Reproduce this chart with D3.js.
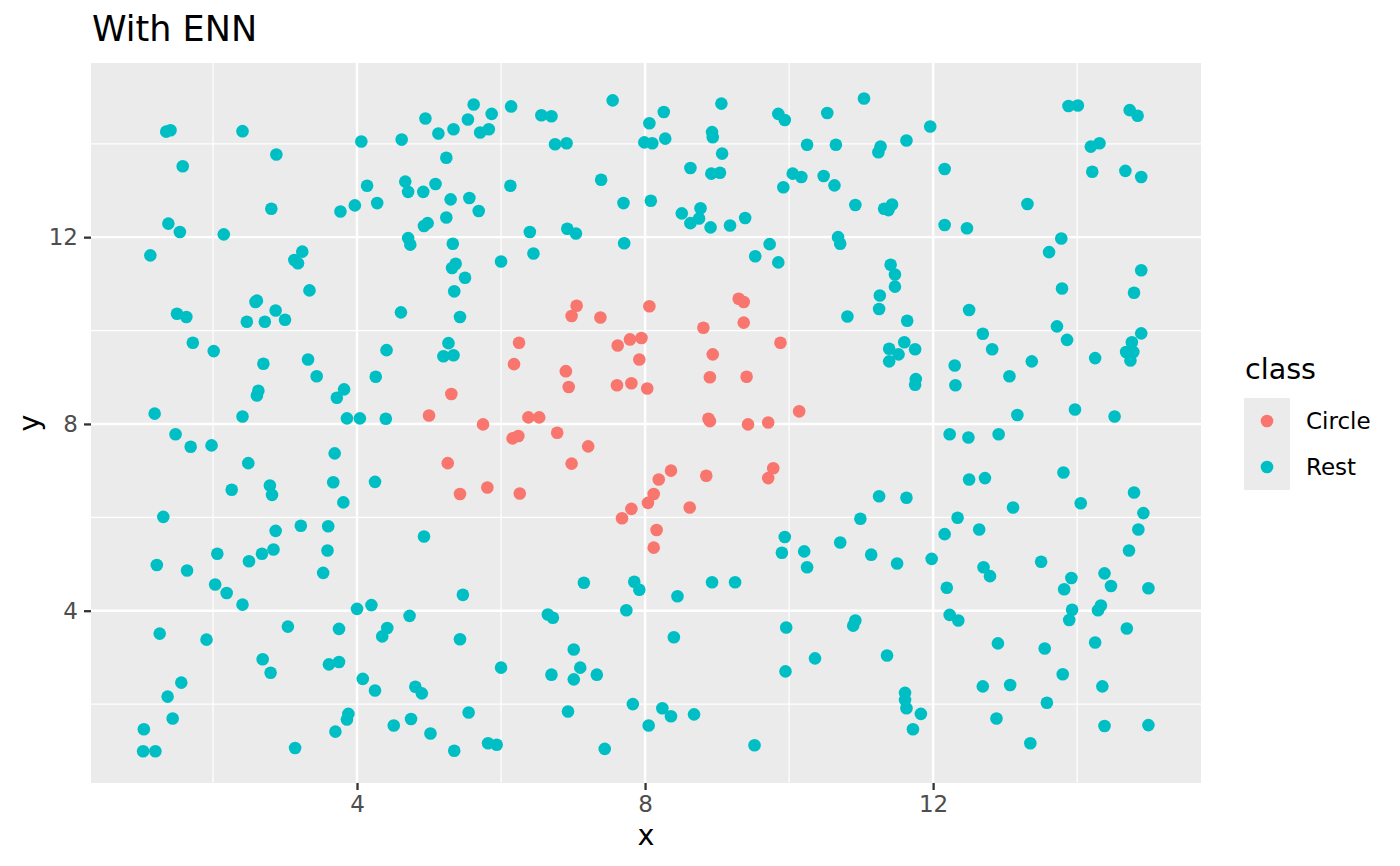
<!DOCTYPE html>
<html>
<head>
<meta charset="utf-8">
<script src="https://cdn.jsdelivr.net/npm/d3@7"></script>
<style>
body { margin: 0; background: #fff; }
text { font-family: "DejaVu Sans", sans-serif; }
</style>
</head>
<body>
<script>
// points, [x, y]
var circle = [
  [5.31,8.64],[5.00,8.18],
  [7.05,10.53],[6.98,10.31],[7.38,10.28],[8.06,10.52],[9.30,10.68],[9.37,10.61],[9.37,10.17],[8.81,10.06],
  [9.88,9.74],[6.25,9.74],[6.18,9.28],[7.62,9.68],[7.79,9.81],[7.95,9.84],[7.92,9.38],[8.94,9.49],
  [6.90,9.13],[6.94,8.79],[7.61,8.83],[7.81,8.87],[8.03,8.76],[8.90,9.00],[9.41,9.01],[10.14,8.27],
  [6.38,8.14],[6.53,8.14],[5.75,7.99],[8.88,8.11],[8.90,8.06],[9.43,7.99],[9.71,8.03],
  [6.16,7.69],[6.24,7.74],[6.78,7.81],[7.21,7.52],[6.98,7.15],[5.81,6.64],[6.26,6.51],[8.19,6.81],
  [8.36,7.00],[8.85,6.89],[9.78,7.05],[9.71,6.84],[8.12,6.50],[8.04,6.31],[7.81,6.18],[7.68,5.98],
  [8.62,6.21],[8.16,5.73],[8.12,5.35],[5.26,7.16],[5.43,6.50]
];

var rest = [
  // top left
  [1.35,14.26],[1.41,14.29],[2.41,14.27],[4.06,14.05],[4.62,14.09],[4.95,14.54],[5.13,14.22],[5.34,14.31],
  [2.88,13.77],[1.58,13.52],[5.24,13.70],[4.14,13.10],[4.67,13.19],[4.71,12.97],[4.92,12.97],[5.09,13.14],
  [5.30,12.81],[4.28,12.73],[3.97,12.68],[3.77,12.55],[2.81,12.61],[5.24,12.42],[4.93,12.24],[4.98,12.30],
  [1.38,12.29],[1.54,12.11],[2.15,12.06],[4.71,11.98],[4.74,11.84],[5.33,11.86],[1.13,11.61],[3.24,11.69],
  [3.13,11.51],[3.18,11.44],[5.32,11.34],[5.37,11.43],[3.34,10.86],[5.35,10.84],[2.59,10.61],[2.61,10.64],
  [1.50,10.36],[1.63,10.29],[2.87,10.43],[2.47,10.19],[2.72,10.19],[3.00,10.23],[4.61,10.39],[5.43,10.29],
  [1.72,9.74],[2.01,9.56],[2.70,9.29],[3.32,9.38],[3.44,9.02],[4.41,9.58],[5.27,9.73],[5.20,9.45],
  [5.34,9.47],[4.26,9.01],[2.63,8.71],[2.61,8.61],[3.82,8.74],[3.72,8.56],[1.19,8.22],[2.41,8.16],
  [3.86,8.12],[4.04,8.12],[4.40,8.11],
  // top middle
  [5.62,14.84],[5.54,14.52],[5.87,14.64],[5.71,14.24],[5.83,14.31],[6.14,14.80],[6.56,14.61],[6.70,14.59],
  [7.55,14.93],[6.75,13.99],[6.91,14.01],[8.06,14.44],[8.26,14.68],[7.99,14.03],[8.10,14.01],[8.28,14.11],
  [9.06,14.86],[8.93,14.25],[8.94,14.14],[9.07,13.79],[9.85,14.64],[9.94,14.51],[10.53,14.66],[10.25,13.98],
  [8.63,13.48],[8.92,13.36],[9.04,13.38],[10.05,13.36],[10.17,13.29],[10.48,13.31],[9.92,13.07],[6.13,13.10],
  [7.39,13.23],[5.56,12.84],[5.69,12.56],[7.70,12.73],[8.08,12.78],[8.51,12.51],[8.77,12.62],[8.63,12.30],
  [8.75,12.40],[8.91,12.21],[9.18,12.25],[9.39,12.41],[6.40,12.11],[6.92,12.18],[7.04,12.08],[7.71,11.87],
  [6.45,11.65],[6.00,11.48],[5.50,11.13],[9.73,11.85],[9.53,11.59],[9.85,11.46],
  // top right
  [11.04,14.97],[10.65,13.98],[11.96,14.37],[11.27,13.94],[11.24,13.82],[11.63,14.07],[10.63,13.11],[12.16,13.46],
  [13.88,14.81],[14.01,14.82],[14.73,14.72],[14.84,14.60],[14.19,13.94],[14.31,14.01],[14.21,13.40],[14.67,13.42],
  [14.89,13.29],[10.92,12.69],[11.32,12.61],[11.43,12.70],[11.38,12.58],[13.31,12.71],[12.16,12.26],[12.47,12.19],
  [10.68,12.00],[10.71,11.86],[13.78,11.97],[13.61,11.68],[11.41,11.41],[11.47,11.20],[11.47,10.94],[11.26,10.75],
  [11.25,10.46],[10.81,10.30],[11.64,10.21],[12.50,10.44],[14.89,11.29],[14.79,10.81],[13.79,10.90],[13.72,10.09],
  [13.86,9.80],[12.69,9.93],[12.82,9.60],[14.89,9.94],[14.76,9.75],[14.68,9.54],[14.78,9.54],[14.74,9.36],
  [14.25,9.41],[11.39,9.61],[11.60,9.75],[11.52,9.49],[11.75,9.60],[11.39,9.34],[11.76,8.96],[11.75,8.84],
  [12.30,9.25],[12.31,8.83],[13.06,9.02],[13.37,9.34],[13.17,8.19],[13.97,8.31],[14.52,8.16],
  // bottom right
  [12.23,7.78],[12.49,7.71],[12.91,7.78],[13.81,6.96],[12.50,6.81],[12.72,6.84],[11.25,6.45],[11.63,6.42],
  [14.79,6.53],[14.05,6.30],[13.11,6.21],[10.99,5.97],[12.34,5.99],[14.92,6.09],[14.85,5.74],[12.16,5.64],
  [12.64,5.74],[10.71,5.46],[11.14,5.20],[11.50,5.01],[11.98,5.11],[14.72,5.29],[13.50,5.05],[12.70,4.93],
  [12.79,4.74],[12.19,4.49],[13.92,4.70],[13.82,4.46],[14.38,4.80],[14.47,4.53],[14.99,4.48],[14.33,4.11],
  [14.29,4.01],[13.93,4.02],[13.89,3.80],[12.23,3.91],[12.35,3.79],[10.92,3.79],[10.89,3.68],[14.69,3.62],
  [14.25,3.32],[12.90,3.30],[13.55,3.19],[11.36,3.04],[13.80,2.64],[12.69,2.38],[13.07,2.41],[14.35,2.38],
  [13.58,2.03],[11.61,2.24],[11.61,2.09],[11.63,1.91],[11.83,1.79],[11.72,1.46],[12.88,1.69],[13.35,1.16],
  [14.38,1.53],[14.99,1.55],
  // bottom middle
  [9.94,5.58],[9.90,5.24],[10.21,5.27],[10.25,4.93],[5.47,4.34],[7.15,4.60],[7.85,4.62],[7.92,4.45],
  [8.45,4.31],[8.93,4.61],[9.25,4.61],[7.74,4.01],[6.65,3.92],[6.72,3.85],[8.40,3.43],[9.96,3.64],
  [6.00,2.78],[7.01,3.17],[6.70,2.63],[7.10,2.78],[7.01,2.53],[7.33,2.63],[10.36,2.98],[9.95,2.70],
  [5.55,1.82],[6.93,1.84],[7.83,2.00],[8.24,1.91],[8.36,1.74],[8.68,1.78],[8.05,1.54],[5.82,1.16],
  [5.94,1.13],[7.44,1.04],[9.52,1.12],
  // bottom left
  [1.48,7.78],[1.69,7.51],[1.98,7.54],[2.49,7.16],[3.69,7.37],[2.26,6.59],[2.79,6.68],[2.82,6.48],
  [3.67,6.75],[4.25,6.76],[3.81,6.32],[1.31,6.01],[2.87,5.71],[3.22,5.82],[3.60,5.81],[4.93,5.59],
  [2.06,5.22],[1.22,4.98],[1.64,4.86],[2.50,5.06],[2.68,5.22],[2.84,5.31],[3.59,5.29],[3.53,4.81],
  [2.03,4.56],[2.19,4.38],[2.41,4.13],[4.00,4.04],[4.20,4.12],[4.73,3.89],[1.26,3.51],[1.91,3.38],
  [3.04,3.66],[3.75,3.61],[4.42,3.63],[4.35,3.45],[5.43,3.39],[2.69,2.96],[2.80,2.67],[3.61,2.85],
  [3.75,2.90],[4.08,2.54],[4.25,2.29],[4.81,2.37],[4.90,2.23],[1.56,2.46],[1.37,2.16],[1.44,1.69],
  [1.04,1.46],[1.03,0.99],[1.20,0.99],[3.14,1.06],[3.88,1.79],[3.86,1.67],[3.70,1.41],[4.51,1.54],
  [4.75,1.68],[5.02,1.37],[5.35,1.00]
];

var xTicks = [4, 8, 12], yTicks = [4, 8, 12];
var xMinor = [2, 6, 10, 14], yMinor = [2, 6, 10, 14];
var classes = ['Circle', 'Rest'];
var colours = ['#F8766D', '#00BFC4'];

function chart()
{
  var width = 1400, height = 866,
      left = 91, right = 1201, top = 63, bottom = 783;

  var x = d3.scaleLinear().domain([0.306, 15.72]).range([left, right]);
  var y = d3.scaleLinear().domain([0.31, 15.73]).range([bottom, top]);

  var svg = d3.select('body').append('svg').attr('width', width).attr('height', height);

  svg.append('rect').attr('x', left).attr('y', top).attr('width', right - left).attr('height', bottom - top).style('fill', '#EBEBEB');

  // grid, minor first then major
  var grid = svg.append('g');
  grid.selectAll('.xminor').data(xMinor).enter().append('line')
    .attr('x1', function(d) { return x(d); }).attr('x2', function(d) { return x(d); })
    .attr('y1', top).attr('y2', bottom).style('stroke', '#fff').style('stroke-width', 1.2);
  grid.selectAll('.yminor').data(yMinor).enter().append('line')
    .attr('y1', function(d) { return y(d); }).attr('y2', function(d) { return y(d); })
    .attr('x1', left).attr('x2', right).style('stroke', '#fff').style('stroke-width', 1.2);
  grid.selectAll('.xmajor').data(xTicks).enter().append('line')
    .attr('x1', function(d) { return x(d); }).attr('x2', function(d) { return x(d); })
    .attr('y1', top).attr('y2', bottom).style('stroke', '#fff').style('stroke-width', 2.4);
  grid.selectAll('.ymajor').data(yTicks).enter().append('line')
    .attr('y1', function(d) { return y(d); }).attr('y2', function(d) { return y(d); })
    .attr('x1', left).attr('x2', right).style('stroke', '#fff').style('stroke-width', 2.4);

  // points
  var pts = svg.append('g');
  pts.selectAll('.rest').data(rest).enter().append('circle')
    .attr('cx', function(d) { return x(d[0]); }).attr('cy', function(d) { return y(d[1]); })
    .attr('r', 6.3).style('fill', colours[1]);
  pts.selectAll('.circ').data(circle).enter().append('circle')
    .attr('cx', function(d) { return x(d[0]); }).attr('cy', function(d) { return y(d[1]); })
    .attr('r', 6.3).style('fill', colours[0]);

  // axes
  var xAxis = svg.append('g').attr('transform', 'translate(0,' + bottom + ')')
    .call(d3.axisBottom(x).tickValues(xTicks).tickSize(7).tickPadding(6).tickFormat(d3.format('d')));
  var yAxis = svg.append('g').attr('transform', 'translate(' + left + ',0)')
    .call(d3.axisLeft(y).tickValues(yTicks).tickSize(7).tickPadding(6).tickFormat(d3.format('d')));
  [xAxis, yAxis].forEach(function(a) {
    a.select('.domain').remove();
    a.selectAll('line').style('stroke', '#333').style('stroke-width', 2.3);
    a.selectAll('text').style('fill', '#4D4D4D').style('font-size', '23px').style('font-family', '"DejaVu Sans", sans-serif');
  });

  // titles
  svg.append('text').attr('x', 92).attr('y', 41).text('With ENN').style('font-size', '35px').style('fill', '#000');
  svg.append('text').attr('x', (left + right) / 2).attr('y', 845).attr('text-anchor', 'middle')
    .text('x').style('font-size', '28.6px').style('fill', '#000');
  svg.append('text').attr('transform', 'translate(39,' + (top + bottom) / 2 + ') rotate(-90)').attr('text-anchor', 'middle')
    .text('y').style('font-size', '28.6px').style('fill', '#000');

  // legend
  var legend = svg.append('g');
  legend.append('text').attr('x', 1245).attr('y', 379).text('class').style('font-size', '28.6px').style('fill', '#000');
  legend.append('rect').attr('x', 1244).attr('y', 398).attr('width', 46).attr('height', 92).style('fill', '#EBEBEB');
  var item = legend.selectAll('.item').data(classes).enter().append('g')
    .attr('transform', function(d, i) { return 'translate(0,' + (421 + i * 46) + ')'; });
  item.append('circle').attr('cx', 1267).attr('cy', 0).attr('r', 6.3).style('fill', function(d, i) { return colours[i]; });
  item.append('text').attr('x', 1306).attr('y', 0).attr('dy', '0.36em').text(function(d) { return d; })
    .style('font-size', '23px').style('fill', '#000');
}

chart();
</script>
</body>
</html>
